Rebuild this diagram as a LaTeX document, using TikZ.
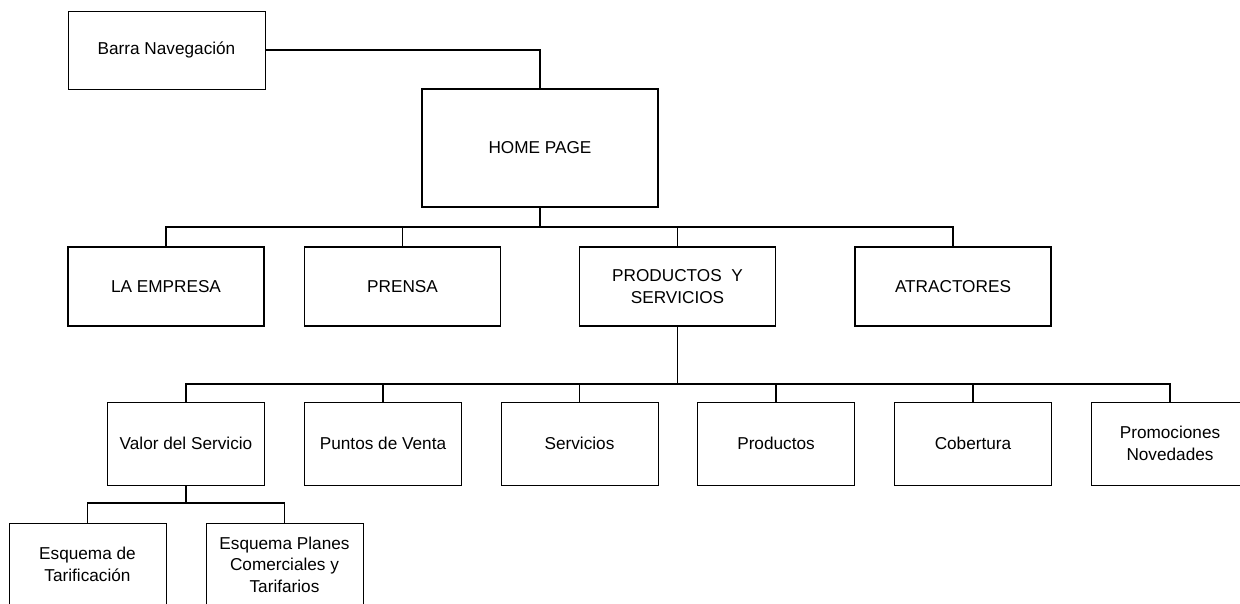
\documentclass[tikz,border=0pt]{standalone}
\usepackage{fontspec}
\setmainfont{Liberation Sans}
\tikzstyle{block} = [rectangle, draw, fill=white, text centered, align=center, line width=0.8pt, minimum width=157pt, minimum height=83pt, inner sep=0pt]
\tikzstyle{mainblock} = [block, line width=1.3pt, minimum width=196pt, minimum height=79pt]
\tikzstyle{homeblock} = [block, line width=2.2pt, minimum width=236pt, minimum height=118pt]
\tikzstyle{line} = [draw, line width=1.3pt]
\begin{document}
\begin{tikzpicture}[x=1pt, y=-1pt, font=\fontsize{17.2}{21.5}\selectfont]
\clip (0,0) rectangle (1240,604);
\node [block, minimum width=197pt, minimum height=78pt] (barra) at (166.5,50) {Barra Navegación};
\node [homeblock] (home) at (540,148) {HOME PAGE};
\node [mainblock] (empresa) at (166,286.5) {LA EMPRESA};
\node [mainblock] (prensa) at (402.5,286.5) {PRENSA};
\node [mainblock] (prodserv) at (677.5,286.5) {PRODUCTOS\ \ Y\\SERVICIOS};
\node [mainblock] (atract) at (953,286.5) {ATRACTORES};
\node [block] (valor) at (186,443.5) {Valor del Servicio};
\node [block] (puntos) at (383,443.5) {Puntos de Venta};
\node [block] (servicios) at (579.5,443.5) {Servicios};
\node [block] (productos) at (776,443.5) {Productos};
\node [block] (cobertura) at (973,443.5) {Cobertura};
\node [block] (promo) at (1170,443.5) {Promociones\\Novedades};
\node [block] (tarif) at (87.5,564.5) {Esquema de\\Tarificación};
\node [block] (planes) at (284.5,564.5) {Esquema Planes\\Comerciales y\\Tarifarios};
\coordinate (busA) at (540,227);
\coordinate (busB) at (677.5,384);
\coordinate (busC) at (186,503);
\path [line] (barra) -| (home);
\path [line] (home) -- (busA);
\path [line] (busA) -| (empresa);
\path [line] (busA) -| (prensa);
\path [line] (busA) -| (prodserv);
\path [line] (busA) -| (atract);
\path [line] (prodserv) -- (busB);
\path [line] (busB) -| (valor);
\path [line] (busB) -| (puntos);
\path [line] (busB) -| (servicios);
\path [line] (busB) -| (productos);
\path [line] (busB) -| (cobertura);
\path [line] (busB) -| (promo);
\path [line] (valor) -- (busC);
\path [line] (busC) -| (tarif);
\path [line] (busC) -| (planes);
\end{tikzpicture}
\end{document}
